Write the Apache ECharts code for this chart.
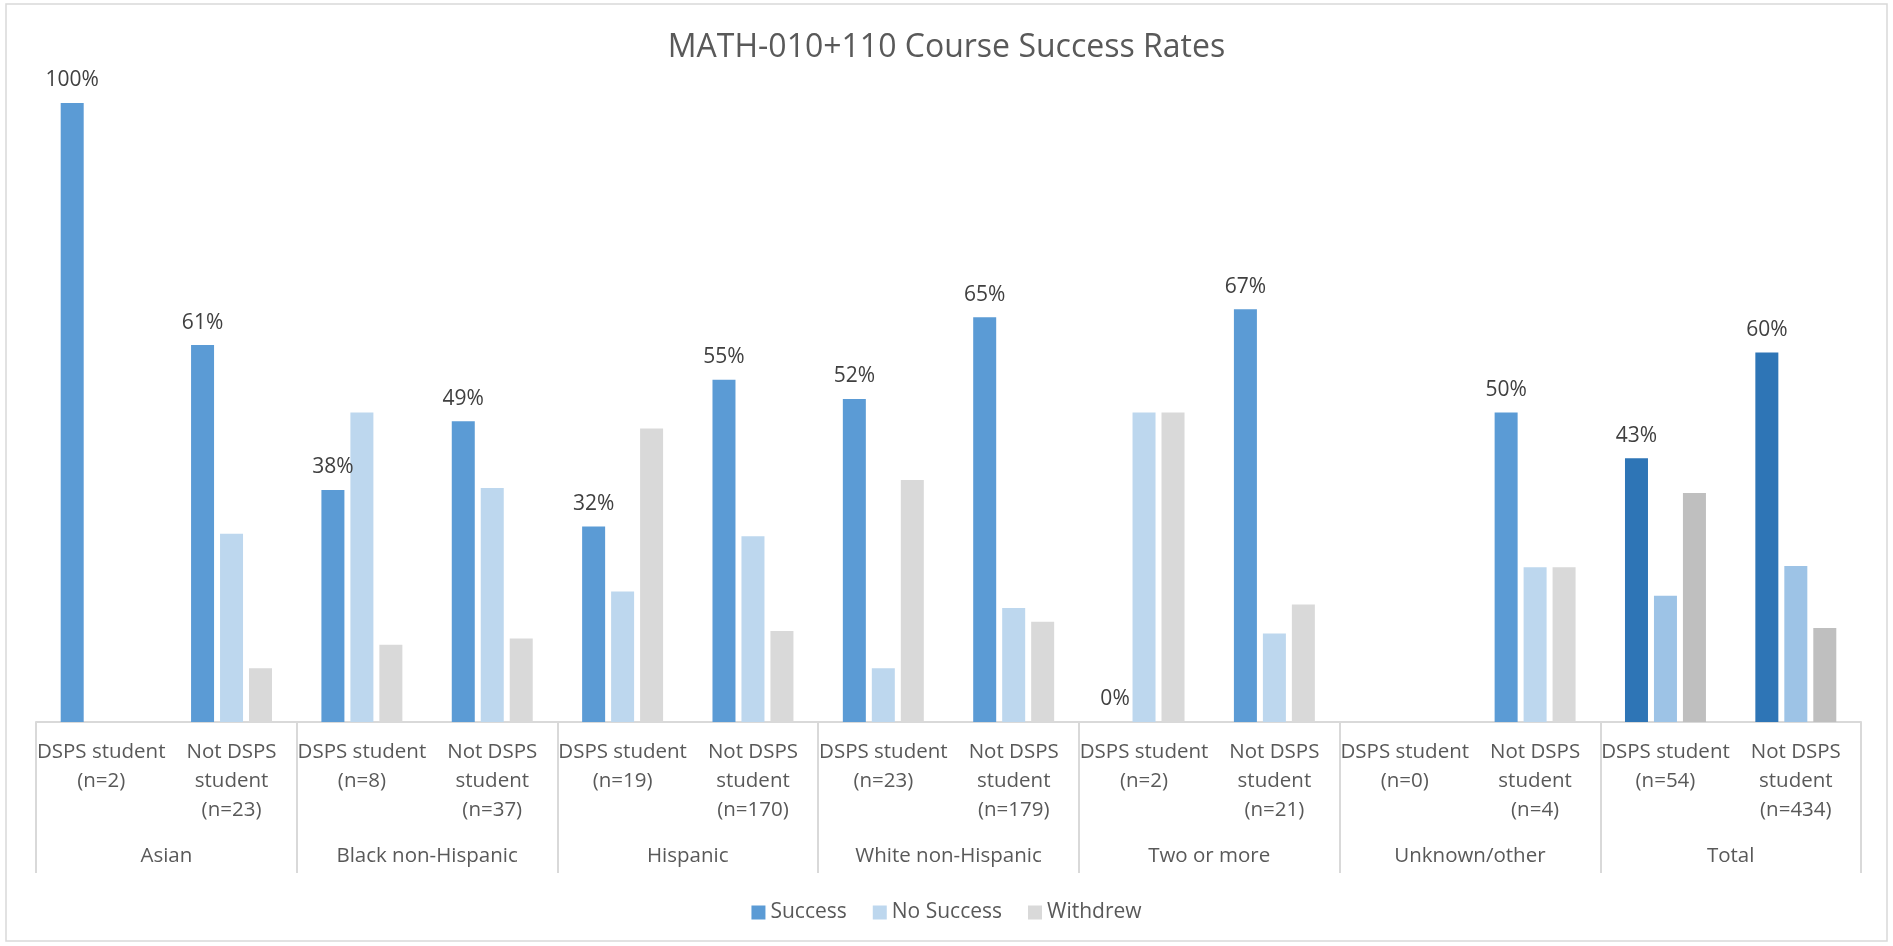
<!DOCTYPE html>
<html>
<head>
<meta charset="utf-8">
<script src="https://cdn.jsdelivr.net/npm/echarts@6/dist/echarts.min.js"></script>
<style>
  html, body { margin: 0; padding: 0; background: #fff; }
  #chart { width: 1893px; height: 946px; }
</style>
</head>
<body>
<div id="chart"></div>
<script>
// sub-categories (DSPS / Not DSPS per group)
var categories = [
  "DSPS student\n(n=2)", "Not DSPS\nstudent\n(n=23)",
  "DSPS student\n(n=8)", "Not DSPS\nstudent\n(n=37)",
  "DSPS student\n(n=19)", "Not DSPS\nstudent\n(n=170)",
  "DSPS student\n(n=23)", "Not DSPS\nstudent\n(n=179)",
  "DSPS student\n(n=2)", "Not DSPS\nstudent\n(n=21)",
  "DSPS student\n(n=0)", "Not DSPS\nstudent\n(n=4)",
  "DSPS student\n(n=54)", "Not DSPS\nstudent\n(n=434)"
];
// outer group labels
var groups = ["Asian", "Black non-Hispanic", "Hispanic", "White non-Hispanic", "Two or more", "Unknown/other", "Total"];

// rates (fractions)
var success   = [1.00, 0.609, 0.375, 0.486, 0.316, 0.553, 0.522, 0.654, 0.00, 0.667, null, 0.50, 0.426, 0.597];
var noSuccess = [0,    0.304, 0.50,  0.378, 0.211, 0.300, 0.087, 0.184, 0.50, 0.143, null, 0.25, 0.204, 0.252];
var withdrew  = [0,    0.087, 0.125, 0.135, 0.474, 0.147, 0.391, 0.162, 0.50, 0.190, null, 0.25, 0.370, 0.152];

var colors = { success: "#5B9BD5", noSuccess: "#BDD7EE", withdrew: "#D9D9D9" };
var totalColors = { success: "#2E75B6", noSuccess: "#9DC3E6", withdrew: "#BFBFBF" };

// last two bars (Total group) use darker shades
function withTotal(arr, key) {
  return arr.map(function (v, i) {
    if (i >= 12) return { value: v, itemStyle: { color: totalColors[key] } };
    return v;
  });
}

var font = "'Open Sans', sans-serif";

var chart = echarts.init(document.getElementById("chart"));
chart.setOption({
  animation: false,
  title: {
    text: "MATH-010+110 Course Success Rates",
    left: "center",
    top: 27,
    textStyle: { fontFamily: font, fontSize: 32, fontWeight: "normal", color: "#595959" }
  },
  legend: {
    top: 897,
    left: "center",
    itemWidth: 14,
    itemHeight: 14,
    itemGap: 26,
    icon: "rect",
    textStyle: { fontFamily: font, fontSize: 21, color: "#595959" },
    data: ["Success", "No Success", "Withdrew"]
  },
  grid: { left: 36, right: 32, top: 103, bottom: 224 },
  xAxis: [
    {
      type: "category",
      data: categories,
      axisLine: { lineStyle: { color: "#D9D9D9", width: 2 } },
      axisTick: { show: false },
      axisLabel: {
        interval: 0,
        margin: 16,
        fontFamily: font,
        fontSize: 20.5,
        lineHeight: 29,
        color: "#595959"
      }
    },
    {
      type: "category",
      data: groups,
      position: "bottom",
      axisLine: { show: false },
      axisTick: { show: true, length: 151, lineStyle: { color: "#D9D9D9", width: 2 } },
      axisLabel: {
        interval: 0,
        margin: 124,
        fontFamily: font,
        fontSize: 20.5,
        color: "#595959"
      }
    }
  ],
  yAxis: { type: "value", min: 0, max: 1, show: false },
  series: [
    {
      name: "Success",
      type: "bar",
      barWidth: 23,
      barGap: "26%",
      itemStyle: { color: colors.success },
      data: withTotal(success, "success"),
      label: {
        show: true,
        position: "top",
        distance: 12,
        fontFamily: font,
        fontSize: 21,
        color: "#404040",
        formatter: function (p) { return Math.round(p.value * 100) + "%"; }
      }
    },
    {
      name: "No Success",
      type: "bar",
      barWidth: 23,
      barGap: "26%",
      itemStyle: { color: colors.noSuccess },
      data: withTotal(noSuccess, "noSuccess")
    },
    {
      name: "Withdrew",
      type: "bar",
      barWidth: 23,
      barGap: "26%",
      itemStyle: { color: colors.withdrew },
      data: withTotal(withdrew, "withdrew")
    }
  ],
  graphic: [{
    type: "rect",
    shape: { x: 6, y: 4, width: 1881, height: 937 },
    style: { fill: null, stroke: "#D9D9D9", lineWidth: 1.5 },
    silent: true,
    z: -1
  }]
});
</script>
</body>
</html>
